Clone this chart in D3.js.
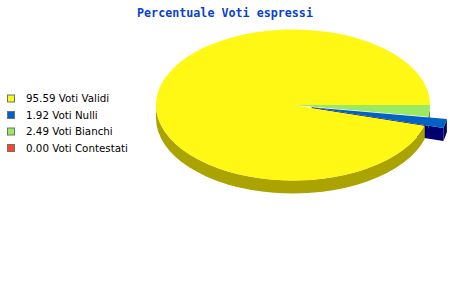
<!DOCTYPE html>
<html lang="it">
  <head>
    <meta charset="UTF-8" />
    <title>Percentuale Voti espressi</title>
    <script src="https://d3js.org/d3.v7.min.js"></script>
    <style>
      body { margin: 0; background: #fff; }
      svg { display: block; }
    </style>
  </head>
  <body>
    <svg width="450" height="300"></svg>
    <script>
      // data
      const labels = ["Voti Validi", "Voti Nulli", "Voti Bianchi", "Voti Contestati"];
      const values = [95.59, 1.92, 2.49, 0.0];
      const exploded = [0, 1, 0, 0];

      const topColors = ["#fff714", "#0062c4", "#9be862", "#ff4422"];
      const sideColors = ["#aaa300", "#000070", "#5e8f3a", "#a02010"];

      const svg = d3.select("svg");

      // title
      svg.append("text")
        .attr("x", 225)
        .attr("y", 17)
        .attr("text-anchor", "middle")
        .style("font-family", "DejaVu Sans Mono")
        .style("font-weight", "bold")
        .style("font-size", "11.7px")
        .attr("fill", "#0a3fcf")
        .text("Percentuale Voti espressi");

      // 3d pie geometry
      const cx = 293, cy = 105, rx = 137, ry = 75.5, depth = 13, explode = 19;

      const pie = d3.pie().sort(null).startAngle(0).endAngle(2 * Math.PI);
      const arcs = pie(values).map((d, i) => {
        const mid = (d.startAngle + d.endAngle) / 2;
        const off = exploded[i]
          ? [explode * Math.cos(mid), explode * ry / rx * Math.sin(mid)]
          : [0, 0];
        return { ...d, i, dx: off[0], dy: -off[1] };
      });

      // angle is counter-clockwise from 3 o'clock
      const pt = (a, d, h = 0) => [cx + d.dx + rx * Math.cos(a), cy + d.dy - ry * Math.sin(a) + h];

      function topPath(d) {
        const c = [cx + d.dx, cy + d.dy];
        const a = pt(d.startAngle, d), b = pt(d.endAngle, d);
        const large = d.endAngle - d.startAngle > Math.PI ? 1 : 0;
        return `M${c}L${a}A${rx},${ry} 0 ${large} 0 ${b}Z`;
      }

      function sidePath(d) {
        const s = Math.max(d.startAngle, Math.PI), e = Math.min(d.endAngle, 2 * Math.PI);
        if (e <= s) return null;
        const a = pt(s, d), b = pt(e, d);
        const a2 = pt(s, d, depth), b2 = pt(e, d, depth);
        return `M${a}A${rx},${ry} 0 0 0 ${b}L${b2}A${rx},${ry} 0 0 1 ${a2}Z`;
      }

      function facePath(d) {
        const c = [cx + d.dx, cy + d.dy];
        const c2 = [c[0], c[1] + depth];
        const r = pt(d.startAngle, d), r2 = pt(d.startAngle, d, depth);
        return `M${c}L${r}L${r2}L${c2}Z`;
      }

      const shown = arcs.filter(d => d.endAngle > d.startAngle);
      const g = svg.append("g");

      // sides (back layer), exploded slice first
      shown.slice().sort((a, b) => exploded[b.i] - exploded[a.i]).forEach(d => {
        if (exploded[d.i]) {
          g.append("path").attr("d", facePath(d)).attr("fill", sideColors[d.i]);
        }
        const sp = sidePath(d);
        if (sp) g.append("path").attr("d", sp).attr("fill", sideColors[d.i]);
      });

      // tops, exploded slice last
      shown.slice().sort((a, b) => exploded[a.i] - exploded[b.i]).forEach(d => {
        g.append("path").attr("d", topPath(d)).attr("fill", topColors[d.i]);
      });

      // legend
      const ly = d3.scaleLinear().domain([0, labels.length - 1]).range([98.5, 148]);
      const legend = svg.append("g");
      labels.forEach((lab, i) => {
        legend.append("rect")
          .attr("x", 7.5)
          .attr("y", ly(i) - 3.5)
          .attr("width", 7)
          .attr("height", 7)
          .attr("fill", topColors[i])
          .attr("stroke", "#707070")
          .attr("stroke-width", 1);
        legend.append("text")
          .attr("x", 26)
          .attr("y", ly(i) + 3.8)
          .style("font-family", "DejaVu Sans")
          .style("font-size", "10.3px")
          .attr("fill", "#000")
          .text(`${values[i].toFixed(2)} ${lab}`);
      });
    </script>
  </body>
</html>
